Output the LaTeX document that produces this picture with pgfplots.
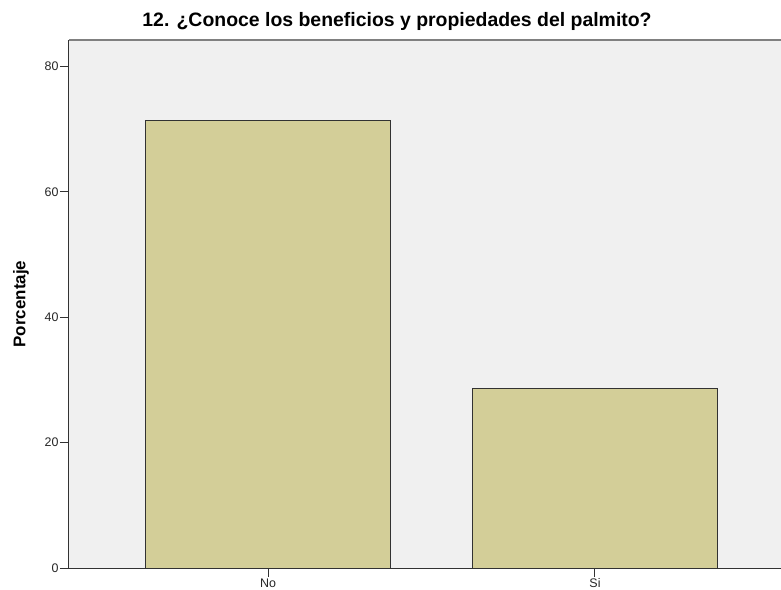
\documentclass[border=0pt]{standalone}
\usepackage{fontspec}
\setmainfont{Liberation Sans}
\usepackage{pgfplots}
\pgfplotsset{compat=1.18}
\definecolor{bg}{RGB}{240,240,240}
\definecolor{barfill}{RGB}{211,206,152}
\definecolor{axc}{RGB}{50,50,50}
\begin{document}
\begin{tikzpicture}
\path[use as bounding box] (-69bp,-22bp) rectangle (712bp,568bp);
\begin{axis}[at={(0,0)}, anchor=south west, scale only axis,
  width=712bp, height=528bp,
  xmin=-0.609, xmax=1.569, ymin=0, ymax=84.2,
  xtick={0,1}, xticklabels={No,Si}, ytick={0,20,40,60,80},
  axis background/.style={fill=bg},
  axis x line*=bottom, axis y line*=left,
  axis line style={draw=axc, line width=1bp, -},
  tick align=outside, major tick length=9bp,
  tick style={draw=axc, line width=1bp},
  xtick pos=bottom, ytick pos=left,
  ticklabel style={font=\fontsize{12.5}{14}\selectfont, text=black!85},
  /pgf/number format/assume math mode=true,
  yticklabel style={xshift=2bp},
  xticklabel style={yshift=2bp},
  ylabel={Porcentaje},
  every axis y label/.append style={at={(axis description cs:-0.0674,0.5)}, anchor=center, font=\bfseries\fontsize{17}{19}\selectfont},
  title={12. ¿Conoce los beneficios y propiedades del palmito?},
  title style={at={(axis description cs:0.4607,1)}, anchor=base, yshift=8bp, font=\bfseries\fontsize{19.5}{22}\selectfont},
]
\addplot[ybar, bar width=245bp, fill=barfill, draw=axc, line width=0.9bp] coordinates {(0,71.4) (1,28.6)};
\draw[draw=gray, line width=1.5bp] (rel axis cs:0,1) -- (rel axis cs:1,1);
\end{axis}
\end{tikzpicture}
\end{document}
